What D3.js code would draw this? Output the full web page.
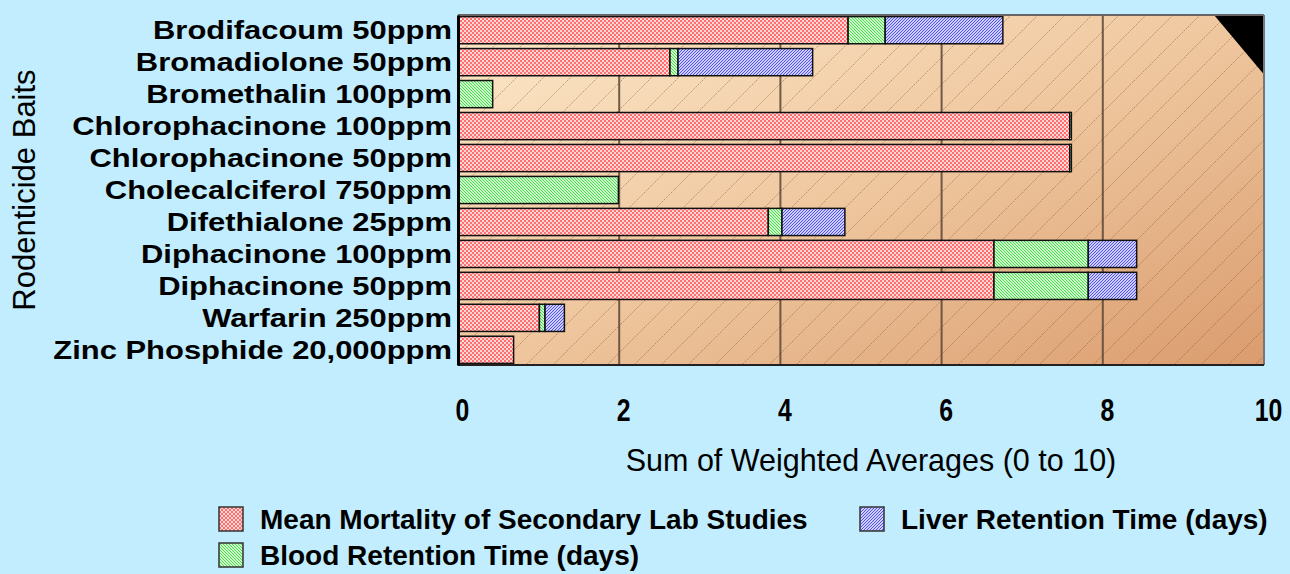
<!DOCTYPE html>
<meta charset="utf-8">
<style>
  body { margin: 0; background: #c1edfe; }
  svg { display: block; font-family: "Liberation Sans", Arial, sans-serif; }
</style>
<body>
<svg width="1290" height="574"></svg>
<script src="https://d3js.org/d3.v7.min.js"></script>
<script>
  var categories = ["Brodifacoum 50ppm", "Bromadiolone 50ppm", "Bromethalin 100ppm",
    "Chlorophacinone 100ppm", "Chlorophacinone 50ppm", "Cholecalciferol 750ppm",
    "Difethialone 25ppm ", "Diphacinone 100ppm", "Diphacinone 50ppm",
    "Warfarin 250ppm", "Zinc Phosphide 20,000ppm"];
  var mortality = [4.84, 2.63, 0, 7.59, 7.59, 0, 3.85, 6.65, 6.65, 1.01, 0.69];
  var blood = [0.46, 0.10, 0.43, 0.02, 0.02, 1.99, 0.17, 1.17, 1.17, 0.07, 0];
  var liver = [1.46, 1.67, 0, 0, 0, 0, 0.78, 0.60, 0.60, 0.24, 0];
  var seriesNames = ["Mean Mortality of Secondary Lab Studies", "Blood Retention Time (days)", "Liver Retention Time (days)"];
  var xTicks = [0, 2, 4, 6, 8, 10];

  var svg = d3.select("svg");
  var pLeft = 458, pRight = 1264, pTop = 15, pBottom = 365;

  var x = d3.scaleLinear().domain([0, 10]).range([pLeft, pRight]);
  var y = d3.scaleBand().domain(categories).range([pTop, pBottom])
    .paddingInner(0.15).paddingOuter(0.05);

  var defs = svg.append("defs");

  var grad = defs.append("linearGradient").attr("id", "bg")
    .attr("x1", "0%").attr("y1", "0%").attr("x2", "100%").attr("y2", "100%");
  grad.append("stop").attr("offset", "0%").attr("stop-color", "#fde9ca");
  grad.append("stop").attr("offset", "50%").attr("stop-color", "#efc79f");
  grad.append("stop").attr("offset", "100%").attr("stop-color", "#da9c6e");

  var hatch = defs.append("pattern").attr("id", "hatch")
    .attr("patternUnits", "userSpaceOnUse").attr("width", 27).attr("height", 27);
  hatch.append("path").attr("d", "M0,27 L27,0 M-3,3 L3,-3 M24,30 L30,24")
    .attr("stroke", "rgba(110,70,40,0.45)").attr("stroke-width", 1)
    .attr("stroke-dasharray", "1.5,1");

  // red checkerboard
  var pr = defs.append("pattern").attr("id", "pRed")
    .attr("patternUnits", "userSpaceOnUse").attr("width", 4).attr("height", 4);
  pr.append("rect").attr("width", 4).attr("height", 4).attr("fill", "#ffd6d6");
  pr.append("rect").attr("width", 2).attr("height", 2).attr("fill", "#ff6f6f");
  pr.append("rect").attr("x", 2).attr("y", 2).attr("width", 2).attr("height", 2).attr("fill", "#ff6f6f");

  // green fine diagonal
  var pg = defs.append("pattern").attr("id", "pGreen")
    .attr("patternUnits", "userSpaceOnUse").attr("width", 3).attr("height", 3);
  pg.append("rect").attr("width", 3).attr("height", 3).attr("fill", "#ccfacc");
  pg.append("path").attr("d", "M0,0 L3,3 M-1,2 L1,4 M2,-1 L4,1")
    .attr("stroke", "#4cdc4c").attr("stroke-width", 1);

  // blue fine diagonal
  var pb = defs.append("pattern").attr("id", "pBlue")
    .attr("patternUnits", "userSpaceOnUse").attr("width", 3).attr("height", 3);
  pb.append("rect").attr("width", 3).attr("height", 3).attr("fill", "#cfcfff");
  pb.append("path").attr("d", "M0,3 L3,0 M-1,1 L1,-1 M2,4 L4,2")
    .attr("stroke", "#5050f4").attr("stroke-width", 1);

  var fills = ["url(#pRed)", "url(#pGreen)", "url(#pBlue)"];

  // plot background
  svg.append("rect").attr("x", pLeft).attr("y", pTop)
    .attr("width", pRight - pLeft).attr("height", pBottom - pTop).attr("fill", "url(#bg)");
  svg.append("rect").attr("x", pLeft).attr("y", pTop)
    .attr("width", pRight - pLeft).attr("height", pBottom - pTop).attr("fill", "url(#hatch)");

  // gridlines
  svg.append("g").selectAll("line")
    .data(xTicks.slice(1, -1))
    .enter().append("line")
    .attr("x1", function(d) { return x(d); })
    .attr("x2", function(d) { return x(d); })
    .attr("y1", pTop).attr("y2", pBottom)
    .attr("stroke", "#5a4636").attr("stroke-width", 2).attr("opacity", 0.85);

  // corner
  var pw = pRight - pLeft, ph = pBottom - pTop;
  svg.append("path")
    .attr("d", "M" + (pRight - pw * 0.062) + "," + pTop + " L" + pRight + "," + pTop +
      " L" + pRight + "," + (pTop + ph * 0.17) + "Z")
    .attr("fill", "#000");

  // stacked bars
  var rows = categories.map(function(c, i) {
    return [mortality[i], blood[i], liver[i]];
  });
  var stackG = svg.append("g");
  rows.forEach(function(vals, i) {
    var start = 0;
    vals.forEach(function(v, s) {
      if (v > 0) {
        stackG.append("rect")
          .attr("x", x(start))
          .attr("y", y(categories[i]))
          .attr("width", x(start + v) - x(start))
          .attr("height", y.bandwidth())
          .attr("fill", fills[s])
          .attr("stroke", "#111").attr("stroke-width", 1.5);
      }
      start += v;
    });
  });

  // borders
  svg.append("line").attr("x1", pLeft).attr("x2", pRight).attr("y1", pTop).attr("y2", pTop)
    .attr("stroke", "#666").attr("stroke-width", 2);
  svg.append("line").attr("x1", pRight).attr("x2", pRight).attr("y1", pTop).attr("y2", pBottom)
    .attr("stroke", "#777").attr("stroke-width", 2);
  svg.append("line").attr("x1", pLeft).attr("x2", pRight).attr("y1", pBottom).attr("y2", pBottom)
    .attr("stroke", "#222").attr("stroke-width", 2);

  // y axis
  var yAxis = svg.append("g").attr("transform", "translate(" + pLeft + ",0)")
    .call(d3.axisLeft(y).tickSize(0).tickPadding(6));
  yAxis.select(".domain").attr("stroke", "#000").attr("stroke-width", 3);
  yAxis.selectAll("text")
    .attr("font-family", "Liberation Sans, Arial, sans-serif")
    .attr("font-size", 26).attr("font-weight", "bold").attr("fill", "#000")
    .attr("transform", "scale(1.19,1)")
    .attr("x", -6 / 1.19).attr("dy", "0.35em");

  // x axis
  var xAxis = svg.append("g").attr("transform", "translate(0," + pBottom + ")")
    .call(d3.axisBottom(x).tickValues(xTicks).tickSize(0).tickPadding(0));
  xAxis.select(".domain").remove();
  xAxis.selectAll("text")
    .attr("font-family", "Liberation Sans, Arial, sans-serif")
    .attr("font-size", 31).attr("font-weight", "bold").attr("fill", "#000")
    .attr("transform", "scale(0.8,1)")
    .attr("dy", 0).attr("y", 56).attr("x", 5);

  svg.append("text").attr("x", 871).attr("y", 471).attr("text-anchor", "middle")
    .attr("font-size", 30.5).attr("fill", "#000")
    .text("Sum of Weighted Averages (0 to 10)");

  svg.append("text").attr("transform", "translate(35,190) rotate(-90)")
    .attr("text-anchor", "middle").attr("font-size", 31).attr("fill", "#000")
    .text("Rodenticide Baits");

  // legend
  var legendPos = [[219, 507], [219, 543], [860, 507]];
  var lg = svg.append("g").selectAll("g")
    .data(seriesNames)
    .enter().append("g")
    .attr("transform", function(d, i) { return "translate(" + legendPos[i][0] + "," + legendPos[i][1] + ")"; });
  lg.append("rect").attr("width", 24).attr("height", 24)
    .attr("fill", function(d, i) { return fills[i]; })
    .attr("stroke", "#333").attr("stroke-width", 1.5);
  lg.append("text").attr("x", 41).attr("y", 22)
    .attr("font-size", 28).attr("font-weight", "bold").attr("fill", "#000")
    .text(function(d) { return d; });
</script>
</body>
